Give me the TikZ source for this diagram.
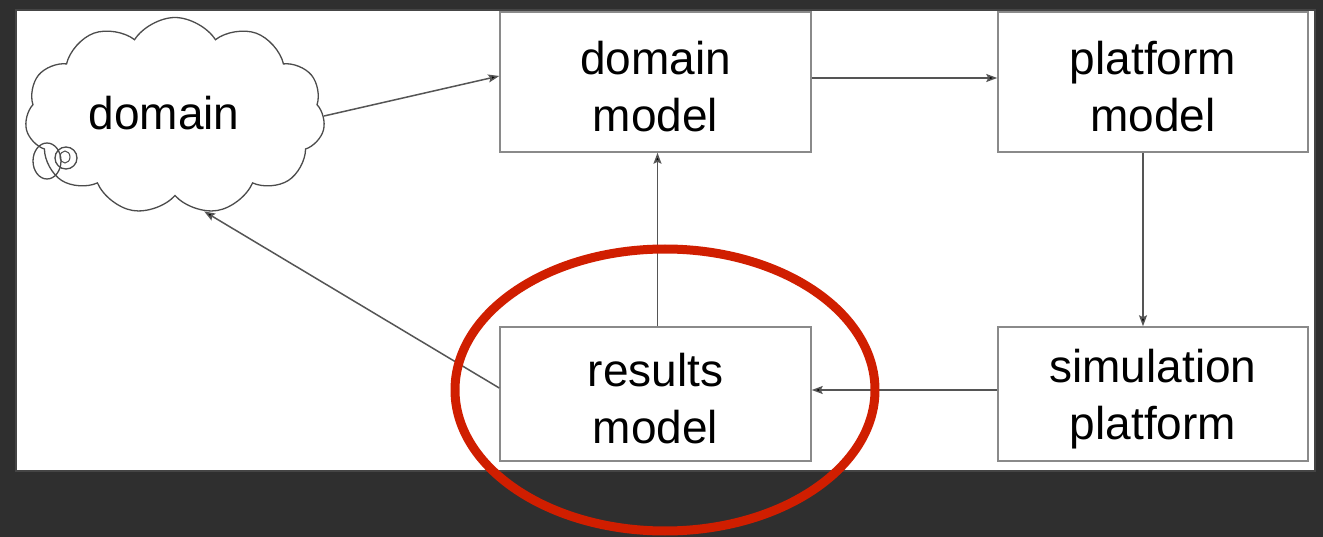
\documentclass[tikz,border=0pt]{standalone}
\usepackage{fontspec}
\setmainfont{Liberation Sans}
\usetikzlibrary{shapes.symbols,arrows.meta}
\definecolor{slate}{HTML}{2F2F2F}
\definecolor{edgegray}{HTML}{8A8A8A}
\definecolor{linegray}{HTML}{555555}
\definecolor{markred}{HTML}{D01E00}
\tikzset{
  bigtext/.style={font=\fontsize{46}{57}\selectfont, align=center},
  block/.style={draw=edgegray, line width=1.5pt, fill=white, inner sep=0pt},
  caption/.style={label={[bigtext, yshift=-5pt]center:#1}},
  link/.style={draw=linegray, line width=1.5pt,
    -{Stealth[length=11pt,width=8pt,inset=2pt,fill=black]}},
}
\begin{document}
\begin{tikzpicture}[x=1pt,y=-1pt]
  % page and white panel
  \fill[slate] (0,0) rectangle (1323,537);
  \useasboundingbox (0,0) rectangle (1323,537);
  \fill[black!60,opacity=0.4] (15,9) rectangle (1316,472);
  \fill[white] (17,11) rectangle (1314,470);

  % thought cloud
  \node[cloud, draw=black!70, line width=1.3pt, fill=white, cloud puffs=11,
        cloud puff arc=115, aspect=1.55, minimum width=300, minimum height=197,
        inner sep=0pt] (cl) at (175,116) {};
  \node[bigtext] (cltext) at (164,113) {domain};
  \draw[black!70, line width=1.3pt] (47,161) ellipse (14 and 18);
  \draw[black!70, line width=1.3pt] (66,158) circle (11);
  \draw[black!70, line width=1pt] (65,157) ellipse (5 and 6);

  % boxes
  \node[block, minimum width=311, minimum height=140, caption={domain\\model}] (dm) at (655.5,82) {};
  \node[block, minimum width=310, minimum height=140, caption={platform\\model}] (pm) at (1153,82) {};
  \node[block, minimum width=311, minimum height=134, caption={results\\model}] (rm) at (655.5,394) {};
  \node[block, minimum width=310, minimum height=134, caption={simulation\\platform}] (sp) at (1153,394) {};

  % connectors
  \draw[link] (cl.east) -- ([yshift=6pt]dm.west);
  \draw[link] ([yshift=4pt]dm.east) -- ([yshift=4pt]pm.west);
  \draw[link] ([xshift=-10pt]pm.south) -- ([xshift=-10pt]sp.north);
  \draw[link] ([yshift=4pt]sp.west) -- ([yshift=4pt]rm.east);
  \draw[link] ([xshift=2pt]rm.north) -- ([xshift=2pt]dm.south);
  \draw[link] ([yshift=6pt]rm.west) -- (cl.287);

  % highlight ring
  \draw[markred, line width=9pt] (665,390) ellipse (210 and 141);
\end{tikzpicture}
\end{document}
